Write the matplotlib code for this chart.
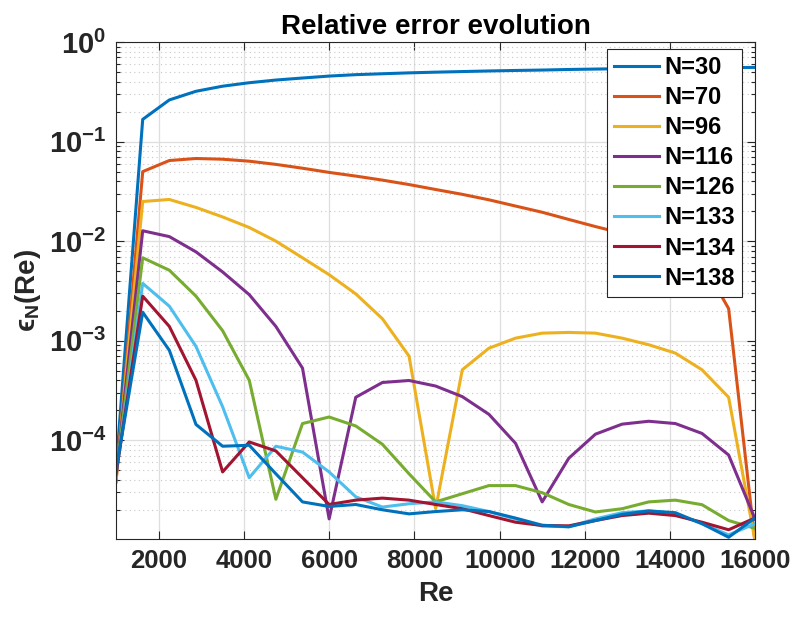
import numpy as np
import matplotlib
matplotlib.use("Agg")
import matplotlib.pyplot as plt
from matplotlib.ticker import FixedLocator, LogLocator, FuncFormatter, NullFormatter

plt.rcParams['font.family'] = ['Liberation Sans', 'DejaVu Sans']
plt.rcParams['font.weight'] = 'bold'
plt.rcParams['mathtext.fontset'] = 'custom'
plt.rcParams['mathtext.rm'] = 'Liberation Sans:bold'
plt.rcParams['mathtext.it'] = 'Liberation Sans:bold'
plt.rcParams['mathtext.bf'] = 'Liberation Sans:bold'

# Reynolds numbers (step 625)
RE = [1000, 1625, 2250, 2875, 3500, 4125, 4750, 5375, 6000, 6625, 7250, 7875, 8500,
      9125, 9750, 10375, 11000, 11625, 12250, 12875, 13500, 14125, 14750, 15375, 16000]

LABELS = ["N=30", "N=70", "N=96", "N=116", "N=126", "N=133", "N=134", "N=138"]

ERR_N30 = [5.2e-5, 0.167, 0.262, 0.32, 0.36, 0.39, 0.415, 0.435, 0.455, 0.47, 0.48, 0.49, 0.498,
           0.505, 0.512, 0.518, 0.523, 0.53, 0.535, 0.54, 0.545, 0.548, 0.551, 0.553, 0.556]
ERR_N70 = [3.8e-5, 0.0499, 0.0645, 0.0676, 0.0665, 0.0635, 0.059, 0.054, 0.049, 0.045, 0.041, 0.037, 0.033,
           0.0295, 0.026, 0.0225, 0.0195, 0.0165, 0.014, 0.012, 0.0102, 0.0085, 0.0062, 0.0021, 9e-6]
ERR_N96 = [4.2e-5, 0.025, 0.0262, 0.0218, 0.0175, 0.0137, 0.010, 6.8e-3, 4.6e-3, 2.95e-3, 1.66e-3, 7.0e-4, 2.05e-5,
           5.1e-4, 8.4e-4, 1.06e-3, 1.19e-3, 1.21e-3, 1.19e-3, 1.06e-3, 9.1e-4, 7.5e-4, 5.1e-4, 2.7e-4, 9.5e-6]
ERR_N116 = [4.5e-5, 0.0127, 0.0111, 7.8e-3, 4.9e-3, 2.9e-3, 1.39e-3, 5.3e-4, 1.62e-5, 2.7e-4, 3.8e-4, 3.98e-4, 3.5e-4,
            2.74e-4, 1.82e-4, 9.3e-5, 2.4e-5, 6.6e-5, 1.15e-4, 1.45e-4, 1.55e-4, 1.47e-4, 1.17e-4, 7.1e-5, 1.6e-5]
ERR_N126 = [4.5e-5, 6.8e-3, 5.1e-3, 2.8e-3, 1.26e-3, 4.0e-4, 2.55e-5, 1.47e-4, 1.71e-4, 1.39e-4, 9.1e-5, 4.6e-5, 2.4e-5,
            2.9e-5, 3.5e-5, 3.5e-5, 2.97e-5, 2.26e-5, 1.9e-5, 2.05e-5, 2.4e-5, 2.5e-5, 2.25e-5, 1.56e-5, 1.3e-5]
ERR_N133 = [4.5e-5, 3.76e-3, 2.22e-3, 8.75e-4, 2.17e-4, 4.2e-5, 8.7e-5, 7.6e-5, 4.8e-5, 2.7e-5, 2.13e-5, 2.3e-5, 2.4e-5,
            2.2e-5, 1.92e-5, 1.62e-5, 1.37e-5, 1.35e-5, 1.62e-5, 1.87e-5, 1.95e-5, 1.83e-5, 1.45e-5, 1.12e-5, 1.45e-5]
ERR_N134 = [4.6e-5, 2.8e-3, 1.39e-3, 4.0e-4, 4.8e-5, 9.6e-5, 7.8e-5, 4.2e-5, 2.26e-5, 2.5e-5, 2.62e-5, 2.5e-5, 2.26e-5,
            2.05e-5, 1.75e-5, 1.5e-5, 1.39e-5, 1.38e-5, 1.56e-5, 1.75e-5, 1.85e-5, 1.75e-5, 1.5e-5, 1.26e-5, 1.66e-5]
ERR_N138 = [5.0e-5, 1.93e-3, 8.0e-4, 1.44e-4, 8.7e-5, 8.9e-5, 4.6e-5, 2.4e-5, 2.16e-5, 2.26e-5, 2.0e-5, 1.82e-5, 1.92e-5,
            2.0e-5, 1.92e-5, 1.65e-5, 1.4e-5, 1.35e-5, 1.56e-5, 1.8e-5, 1.95e-5, 1.87e-5, 1.45e-5, 1.06e-5, 1.66e-5]

SERIES = [ERR_N30, ERR_N70, ERR_N96, ERR_N116, ERR_N126, ERR_N133, ERR_N134, ERR_N138]

# matlab default line colors
COLORS = ['#0072BD', '#D95319', '#EDB120', '#7E2F8E', '#77AC30', '#4DBEEE', '#A2142F', '#0072BD']
AX_COLOR = '#262626'

fig = plt.figure(figsize=(7.95, 6.18), dpi=100)
ax = fig.add_axes([0.146, 0.128, 0.804, 0.804])

for vals, lab, col in zip(SERIES, LABELS, COLORS):
    ax.plot(RE, vals, color=col, lw=2.2, label=lab)

ax.set_yscale('log')
ax.set_xlim(1000, 16000)
ax.set_ylim(1.02e-5, 1)

ax.xaxis.set_major_locator(FixedLocator([2000, 4000, 6000, 8000, 10000, 12000, 14000, 16000]))
ax.yaxis.set_major_locator(LogLocator(base=10, numticks=10))
ax.yaxis.set_minor_locator(LogLocator(base=10, subs=np.arange(2, 10), numticks=10))
ax.yaxis.set_minor_formatter(NullFormatter())
ax.yaxis.set_major_formatter(FuncFormatter(lambda v, p: r'$\mathbf{10^{%d}}$' % int(round(np.log10(v)))))

ax.tick_params(which='both', direction='in', top=True, right=True, colors=AX_COLOR, width=0.8)
ax.tick_params(axis='x', labelsize=18.5)
ax.tick_params(axis='y', labelsize=21)
ax.tick_params(which='major', length=6, pad=7)
ax.tick_params(which='minor', length=3)
for lbl in ax.get_xticklabels():
    lbl.set_fontweight('bold')

ax.grid(True, which='major', color='#dedede', lw=0.9, linestyle='-')
ax.grid(True, which='minor', axis='y', color='#c8c8c8', lw=0.8, linestyle=(0, (1, 3)))
ax.set_axisbelow(True)
for sp in ax.spines.values():
    sp.set_color(AX_COLOR)
    sp.set_linewidth(0.8)

ax.set_title('Relative error evolution', fontsize=20, fontweight='bold', pad=6)
ax.set_xlabel('Re', fontsize=20, fontweight='bold', color=AX_COLOR, labelpad=6)
ax.set_ylabel('ϵ$_\\mathbf{N}$(Re)', fontsize=20, fontweight='bold', color=AX_COLOR, labelpad=4)

leg = ax.legend(loc='upper right', bbox_to_anchor=(0.98, 0.986), borderaxespad=0,
                fontsize=17, fancybox=False, framealpha=1, edgecolor=AX_COLOR,
                handlelength=1.9, handletextpad=0.25, labelspacing=0.3, borderpad=0.3)
leg.get_frame().set_linewidth(0.8)
for t in leg.get_texts():
    t.set_fontweight('bold')

fig.savefig('out.png', dpi=100)
